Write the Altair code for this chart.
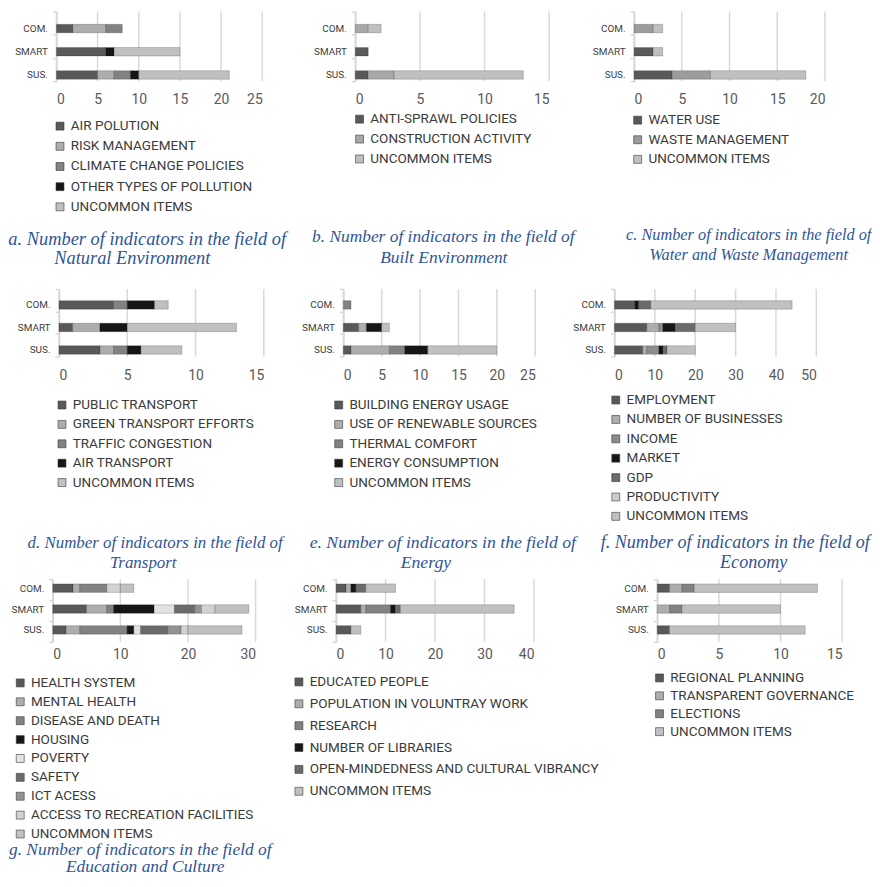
import altair as alt
import pandas as pd

ROWS = ["COM.", "SMART", "SUS."]

# ---------------- data ----------------
A_ITEMS = ["AIR POLUTION", "RISK MANAGEMENT", "CLIMATE CHANGE POLICIES",
           "OTHER TYPES OF POLLUTION", "UNCOMMON ITEMS"]
A_COM = [2, 4, 2, 0, 0]
A_SMART = [6, 0, 0, 1, 8]
A_SUS = [5, 2, 2, 1, 11]
A_TICKS = [0, 5, 10, 15, 20, 25]
A_CAPTION = ["a. Number of indicators in the field of", "Natural Environment"]

B_ITEMS = ["ANTI-SPRAWL POLICIES", "CONSTRUCTION ACTIVITY", "UNCOMMON ITEMS"]
B_COM = [0, 1, 1]
B_SMART = [1, 0, 0]
B_SUS = [1, 2, 10]
B_TICKS = [0, 5, 10, 15]
B_CAPTION = ["b. Number of indicators in the field of", "Built Environment"]

C_ITEMS = ["WATER USE", "WASTE MANAGEMENT", "UNCOMMON ITEMS"]
C_COM = [0, 2, 1]
C_SMART = [2, 0, 1]
C_SUS = [4, 4, 10]
C_TICKS = [0, 5, 10, 15, 20]
C_CAPTION = ["c. Number of indicators in the field of", "Water and Waste Management"]

D_ITEMS = ["PUBLIC TRANSPORT", "GREEN TRANSPORT EFFORTS", "TRAFFIC CONGESTION",
           "AIR TRANSPORT", "UNCOMMON ITEMS"]
D_COM = [4, 0, 1, 2, 1]
D_SMART = [1, 2, 0, 2, 8]
D_SUS = [3, 1, 1, 1, 3]
D_TICKS = [0, 5, 10, 15]
D_CAPTION = ["d. Number of indicators in the field of", "Transport"]

E_ITEMS = ["BUILDING ENERGY USAGE", "USE OF RENEWABLE SOURCES", "THERMAL COMFORT",
           "ENERGY CONSUMPTION", "UNCOMMON ITEMS"]
E_COM = [0, 0, 1, 0, 0]
E_SMART = [2, 1, 0, 2, 1]
E_SUS = [1, 5, 2, 3, 9]
E_TICKS = [0, 5, 10, 15, 20, 25]
E_CAPTION = ["e. Number of indicators in the field of", "Energy"]

F_ITEMS = ["EMPLOYMENT", "NUMBER OF BUSINESSES", "INCOME", "MARKET", "GDP",
           "PRODUCTIVITY", "UNCOMMON ITEMS"]
F_COM = [5, 0, 0, 1, 3, 0, 35]
F_SMART = [8, 3, 1, 3, 5, 0, 10]
F_SUS = [7, 1, 3, 1, 1, 0, 7]
F_TICKS = [0, 10, 20, 30, 40, 50]
F_CAPTION = ["f. Number of indicators in the field of", "Economy"]

G_ITEMS = ["HEALTH SYSTEM", "MENTAL HEALTH", "DISEASE AND DEATH", "HOUSING", "POVERTY",
           "SAFETY", "ICT ACESS", "ACCESS TO RECREATION FACILITIES", "UNCOMMON ITEMS"]
G_COM = [3, 1, 4, 0, 0, 0, 0, 2, 2]
G_SMART = [5, 3, 1, 6, 3, 3, 1, 2, 5]
G_SUS = [2, 2, 7, 1, 1, 4, 2, 1, 8]
G_TICKS = [0, 10, 20, 30]
G_CAPTION = ["g. Number of indicators in the field of", "Education and Culture"]

H_ITEMS = ["EDUCATED PEOPLE", "POPULATION IN VOLUNTRAY WORK", "RESEARCH",
           "NUMBER OF LIBRARIES", "OPEN-MINDEDNESS AND CULTURAL VIBRANCY", "UNCOMMON ITEMS"]
H_COM = [2, 1, 0, 1, 2, 6]
H_SMART = [5, 1, 5, 1, 1, 23]
H_SUS = [3, 0, 0, 0, 0, 2]
H_TICKS = [0, 10, 20, 30, 40]

I_ITEMS = ["REGIONAL PLANNING", "TRANSPARENT GOVERNANCE", "ELECTIONS", "UNCOMMON ITEMS"]
I_COM = [1, 1, 1, 10]
I_SMART = [0, 1, 1, 8]
I_SUS = [1, 0, 0, 11]
I_TICKS = [0, 5, 10, 15]

# ---------------- styles ----------------
DARK, BLACK, MID, MIDDARK, LIGHT, UNC = "#595959", "#161616", "#828282", "#6b6b6b", "#adadad", "#c0c0c0"
A_COLORS = [DARK, LIGHT, MID, BLACK, UNC]
B_COLORS = [DARK, "#a8a8a8", UNC]
C_COLORS = [DARK, "#9c9c9c", UNC]
D_COLORS = [DARK, LIGHT, MID, BLACK, UNC]
E_COLORS = [DARK, LIGHT, MID, BLACK, UNC]
F_COLORS = [DARK, LIGHT, "#8c8c8c", BLACK, MIDDARK, "#cccccc", UNC]
G_COLORS = [DARK, LIGHT, MID, BLACK, "#e2e2e2", MIDDARK, "#939393", "#d2d2d2", UNC]
H_COLORS = [DARK, LIGHT, MID, BLACK, MIDDARK, UNC]
I_COLORS = [DARK, LIGHT, MID, UNC]

CAP_COLOR = "#2f5597"
SANS = "Roboto"
GRID = "#d9d9d9"

# column cell widths (flush grid, columns aligned)
COLW = [284.7, 279.3, 229]


def panel(items, com, smart, sus, ticks, colors, L, caption=None):
    recs = []
    for row, vals in zip(ROWS, [com, smart, sus]):
        for k, (it, v) in enumerate(zip(items, vals)):
            if v > 0:
                recs.append({"row": row, "item": it, "n": v, "k": k})
    df = pd.DataFrame(recs)
    top, h, w, dx = L["top"], L["h"], L["w"], L["dx"]
    xscale = alt.Scale(domain=[0, ticks[-1]], range=[dx, dx + w], nice=False, zero=True)
    xaxis = alt.Axis(values=ticks, title=None, grid=False, domain=False, ticks=False, tickSize=0,
                     labelFont=SANS, labelFontSize=14, labelColor="#595959",
                     labelPadding=L["lp"], format="d")
    yscale = alt.Scale(domain=ROWS, range=[top, top + h], paddingInner=0, paddingOuter=0)
    yaxis = alt.Axis(title=None, tickBand="extent", offset=-dx, domainColor="#d0d0d0",
                     domainWidth=1.5, tickColor="#d0d0d0", tickSize=4, tickWidth=1.2,
                     labelOffset=L["dy"], labelFont=SANS, labelFontSize=10,
                     labelColor="#404040", labelPadding=5)
    grid = alt.Chart(pd.DataFrame({"n": ticks})).mark_rule(color=GRID, strokeWidth=1.5).encode(
        x=alt.X("n:Q", scale=xscale, axis=xaxis),
        y=alt.value(top), y2=alt.value(top + h),
    )
    bars = alt.Chart(df).mark_bar(
        size=8.5, yOffset=L["dy"], stroke="#000000", strokeOpacity=0.28, strokeWidth=0.7
    ).encode(
        x=alt.X("n:Q", stack="zero", scale=xscale, axis=xaxis),
        y=alt.Y("row:N", sort=ROWS, scale=yscale, axis=yaxis),
        color=alt.Color("item:N", scale=alt.Scale(domain=items, range=colors),
                        legend=alt.Legend(title=None, orient="none", legendX=L["lx"], legendY=L["ly"],
                                          direction="vertical", symbolType="square", symbolSize=64,
                                          symbolStrokeColor="#3a3a3a", symbolStrokeWidth=0.6,
                                          labelFont=SANS, labelFontSize=13.6, labelColor="#3a3a3a",
                                          rowPadding=L["rp"], labelOffset=4, labelLimit=500)),
        order=alt.Order("k:Q"),
    )
    layers = [grid, bars]
    if caption is not None:
        for line, (cx, cy, al) in zip(caption, L["cap"]):
            layers.append(
                alt.Chart(pd.DataFrame({"t": [line]})).mark_text(
                    font="Liberation Serif", fontStyle="italic", fontSize=L["fs"], color=CAP_COLOR,
                    align=al, baseline="middle"
                ).encode(text="t:N", x=alt.value(cx), y=alt.value(cy))
            )
    return alt.layer(*layers).properties(width=COLW[L["col"]], height=top + h)


# layout (pixels relative to each panel's grid cell)
LA = dict(col=0, top=0, h=70, w=207, dx=3.7, dy=5.5, lp=12, lx=0.5, ly=108.5, rp=5.3, fs=18.5,
          cap=[(95, 229, "center"), (80, 248, "center")])
LB = dict(col=1, top=0, h=70, w=195, dx=19.3, dy=5.5, lp=12, lx=16.8, ly=101.5, rp=5, fs=17.5,
          cap=[(107.8, 227, "center"), (108.3, 248, "center")])
LC = dict(col=2, top=0, h=70, w=192, dx=19.7, dy=5.5, lp=12, lx=16.5, ly=102.5, rp=4.7, fs=16.4,
          cap=[(135, 225, "center"), (135, 245, "center")])

LD = dict(col=0, top=209, h=68, w=206, dx=6.3, dy=4.8, lp=12, lx=2.5, ly=319, rp=4.5, fs=17,
          cap=[(103, 465, "center"), (91, 485, "center")])
LE = dict(col=1, top=209, h=68, w=193, dx=7.3, dy=4.8, lp=12, lx=-4.2, ly=319, rp=4.5, fs=17.8,
          cap=[(107.3, 465, "center"), (90.3, 485, "center")])
LF = dict(col=2, top=209, h=68, w=203, dx=0, dy=4.8, lp=12, lx=-5.5, ly=314, rp=4.5, fs=18.2,
          cap=[(121.5, 465, "center"), (140, 485, "center")])

LG = dict(col=0, top=224, h=63, w=204, dx=0, dy=-1.5, lp=6, lx=-39.5, ly=321.5, rp=4, fs=17.5,
          cap=[(-44, 496, "left"), (93, 513.5, "center")])
LH = dict(col=1, top=224, h=63, w=199, dx=0, dy=-1.5, lp=6, lx=-44.2, ly=320.5, rp=7)
LI = dict(col=2, top=224, h=63, w=186, dx=43, dy=-1.5, lp=6, lx=38.5, ly=316.5, rp=3)

panels = [
    panel(A_ITEMS, A_COM, A_SMART, A_SUS, A_TICKS, A_COLORS, LA, A_CAPTION),
    panel(B_ITEMS, B_COM, B_SMART, B_SUS, B_TICKS, B_COLORS, LB, B_CAPTION),
    panel(C_ITEMS, C_COM, C_SMART, C_SUS, C_TICKS, C_COLORS, LC, C_CAPTION),
    panel(D_ITEMS, D_COM, D_SMART, D_SUS, D_TICKS, D_COLORS, LD, D_CAPTION),
    panel(E_ITEMS, E_COM, E_SMART, E_SUS, E_TICKS, E_COLORS, LE, E_CAPTION),
    panel(F_ITEMS, F_COM, F_SMART, F_SUS, F_TICKS, F_COLORS, LF, F_CAPTION),
    panel(G_ITEMS, G_COM, G_SMART, G_SUS, G_TICKS, G_COLORS, LG, G_CAPTION),
    panel(H_ITEMS, H_COM, H_SMART, H_SUS, H_TICKS, H_COLORS, LH),
    panel(I_ITEMS, I_COM, I_SMART, I_SUS, I_TICKS, I_COLORS, LI),
]

chart = alt.concat(*panels, columns=3, spacing=0, bounds="flush").resolve_scale(
    color="independent", x="independent", y="independent"
).properties(
    padding={"left": 0, "top": -4, "right": 0, "bottom": 0}, background="white"
).configure_view(stroke=None)

chart.save("out.html", embed_options={"renderer": "svg", "actions": False})
